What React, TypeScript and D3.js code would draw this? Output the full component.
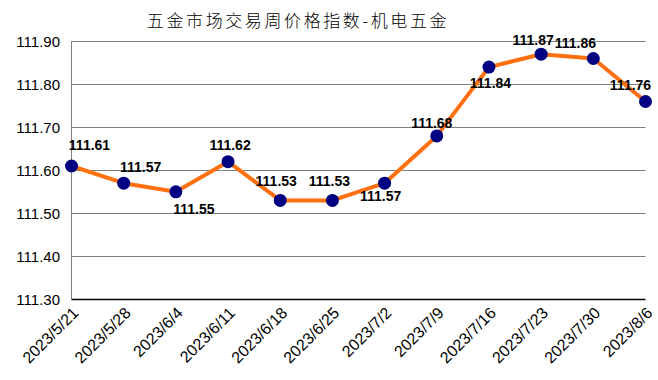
import React from "react";
import * as d3 from "d3";

const title = "五金市场交易周价格指数-机电五金";
const categories = [
  "2023/5/21", "2023/5/28", "2023/6/4", "2023/6/11", "2023/6/18", "2023/6/25",
  "2023/7/2", "2023/7/9", "2023/7/16", "2023/7/23", "2023/7/30", "2023/8/6",
];
const values = [111.61, 111.57, 111.55, 111.62, 111.53, 111.53, 111.57, 111.68, 111.84, 111.87, 111.86, 111.76];
const yTicks = [111.3, 111.4, 111.5, 111.6, 111.7, 111.8, 111.9];
// label placement offsets (dx, dy) relative to the point
const labelDx = [18, 17, 18, 2, -4, -3, -4, -5, 1.5, -8, -18, -15];
const labelDy = [-21, -16, 17, -17, -19, -19, 13, -13, 16, -14, -16, -17];

const W = 658, H = 380;
const left = 71.5, right = 645.5, top = 41.3, bottom = 299.3;
const font = "'Liberation Sans', Arial, sans-serif";

export default function App() {
  const x = d3.scalePoint<string>().domain(categories).range([left, right]);
  const y = d3.scaleLinear().domain([111.3, 111.9]).range([bottom, top]);
  const line = d3.line<number>().x((_, i) => x(categories[i])!).y((d) => y(d));
  return (
    <svg width={W} height={H} style={{ position: "absolute", left: 0, top: 0, background: "#fff" }}>
      <rect width={W} height={H} fill="#fff" />
      <text x={298} y={19} textAnchor="middle" dominantBaseline="central"
        fontFamily="'Noto Sans CJK SC', sans-serif" fontSize={17} letterSpacing={2.6} fill="#000" fontWeight={300}>
        {title}
      </text>
      {yTicks.map((t) => (
        <g key={t}>
          {t !== 111.3 && (
            <line x1={left} x2={right} y1={Math.round(y(t)) + 0.5} y2={Math.round(y(t)) + 0.5} stroke="#808080" strokeWidth={1} />
          )}
          <text x={60} y={y(t)} textAnchor="end" dominantBaseline="central" fontFamily={font} fontSize={15} fill="#000">
            {t.toFixed(2)}
          </text>
        </g>
      ))}
      <line x1={left} x2={left} y1={top} y2={bottom} stroke="#808080" strokeWidth={1} />
      <line x1={left} x2={right} y1={Math.round(bottom) + 0.5} y2={Math.round(bottom) + 0.5} stroke="#000" strokeWidth={1.5} />
      {categories.map((c) => (
        <text key={c} transform={`translate(${x(c)! + 8},${314}) rotate(-45)`} textAnchor="end"
          fontFamily={font} fontSize={16} fill="#000">
          {c}
        </text>
      ))}
      <path d={line(values)!} fill="none" stroke="#FF7010" strokeWidth={4} strokeLinejoin="round" />
      {values.map((v, i) => (
        <circle key={i} cx={x(categories[i])!} cy={y(v)} r={6.5} fill="#000080" />
      ))}
      {values.map((v, i) => (
        <text key={"l" + i} x={x(categories[i])! + labelDx[i]} y={y(v) + labelDy[i]} textAnchor="middle"
          dominantBaseline="central" fontFamily={font} fontSize={14} fontWeight="bold" fill="#000">
          {v.toFixed(2)}
        </text>
      ))}
    </svg>
  );
}
